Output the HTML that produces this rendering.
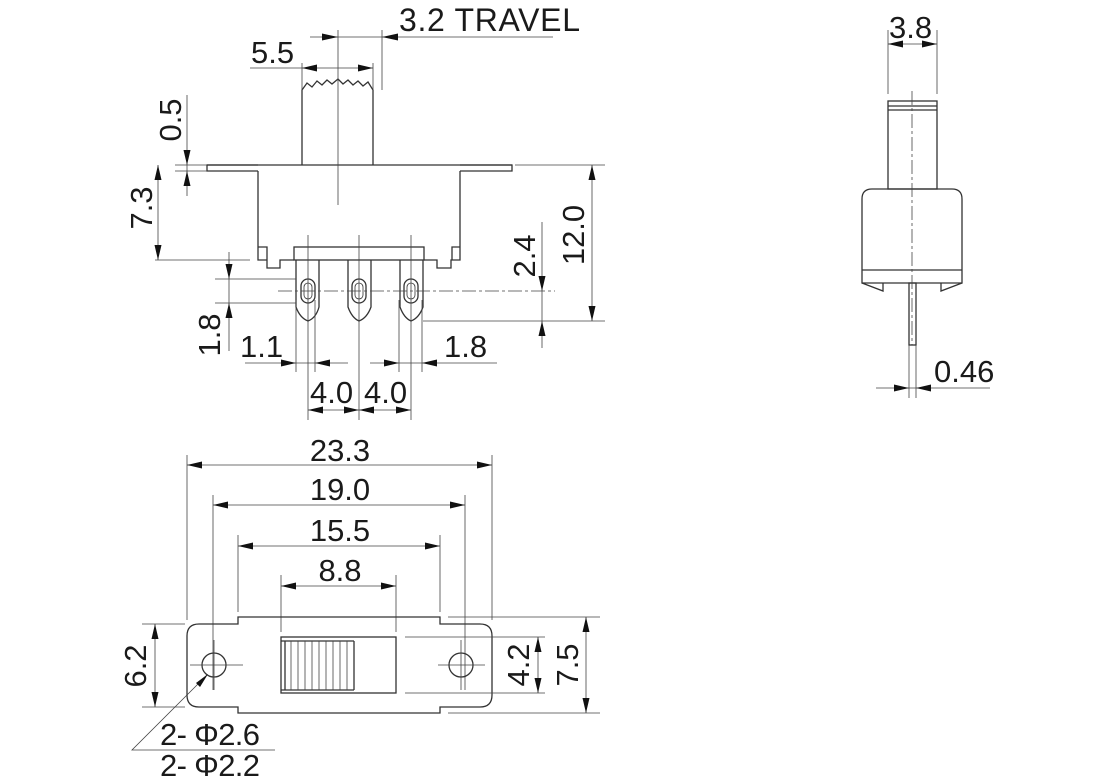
<!DOCTYPE html>
<html><head><style>
html,body{margin:0;padding:0;background:#fff;}
svg{display:block;}
text{font-family:"Liberation Sans",sans-serif;fill:#1a1a1a;font-size:31px;}
.o{stroke:#333;stroke-width:1.3;fill:none;}
.t{stroke:#444;stroke-width:0.8;fill:none;}
.d{stroke:#444;stroke-width:0.8;fill:none;stroke-dasharray:14 3 3 3;}
.a{fill:#111;stroke:none;}
</style></head><body>
<svg width="1120" height="784" viewBox="0 0 1120 784" xmlns="http://www.w3.org/2000/svg">
<!-- ===== FRONT VIEW ===== -->
<path class="o" d="M258 165 L207 165 L207 171 L258 171 M460 165 L512 165 L512 171 L460 171"/>
<path class="o" d="M207 165 H512"/>
<path class="o" d="M302 165 V90 L307 83 L312 87 L317 81 L322 85 L327 80 L332 84 L338 79 L343 84 L348 80 L353 85 L358 81 L363 86 L368 82 L373 90 V165"/>
<path class="o" d="M258 171 V260 H267 V268 H280 V260 H294 M258 247 H267 V260"/>
<path class="o" d="M460 171 V260 H451 V268 H437 V260 H424 M460 247 H452 V260"/>
<rect class="o" x="294" y="247" width="130" height="13"/>
<g class="o">
<path d="M296 260 V307 Q300 318 308 321 Q316 318 319 307 V260"/>
<path d="M348 260 V307 Q352 318 359 321 Q367 318 371 307 V260"/>
<path d="M400 260 V307 Q404 318 411 321 Q419 318 423 307 V260"/>
<rect x="301" y="279" width="14" height="24" rx="7"/>
<rect x="352" y="279" width="14" height="24" rx="7"/>
<rect x="404" y="279" width="14" height="24" rx="7"/>
<rect x="304" y="283" width="8" height="16" rx="4" style="stroke-width:0.8"/>
<rect x="355" y="283" width="8" height="16" rx="4" style="stroke-width:0.8"/>
<rect x="407" y="283" width="8" height="16" rx="4" style="stroke-width:0.8"/>
</g>
<path class="t" d="M338 30 V205 M308 235 V420 M359 235 V420 M411 235 V420"/>
<path class="d" d="M278 291 H555"/>
<!-- 3.2 TRAVEL -->
<text x="399" y="31" style="font-size:32px" textLength="181">3.2 TRAVEL</text>
<path class="t" d="M310 37 H553 M382 30 V90"/>
<polygon class="a" points="338,37 322,33.5 322,40.5"/>
<polygon class="a" points="382,37 398,33.5 398,40.5"/>
<!-- 5.5 -->
<text x="251" y="63">5.5</text>
<path class="t" d="M250 68 H373 M302 63 V90 M373 63 V90"/>
<polygon class="a" points="302,68 317,64.5 317,71.5"/>
<polygon class="a" points="373,68 358,64.5 358,71.5"/>
<!-- 0.5 -->
<text transform="translate(181 120) rotate(-90)" text-anchor="middle">0.5</text>
<path class="t" d="M187 95 V196 M175 165 H207 M175 171 H207"/>
<polygon class="a" points="187,165 183.5,150 190.5,150"/>
<polygon class="a" points="187,171 183.5,186 190.5,186"/>
<!-- 7.3 -->
<text transform="translate(152 208) rotate(-90)" text-anchor="middle">7.3</text>
<path class="t" d="M158 165 V260 M155 260 H250"/>
<polygon class="a" points="158,165 154.5,180 161.5,180"/>
<polygon class="a" points="158,260 154.5,245 161.5,245"/>
<!-- 12.0 -->
<text transform="translate(584 235) rotate(-90)" text-anchor="middle">12.0</text>
<path class="t" d="M592 165 V321 M515 165 H605 M423 321 H605"/>
<polygon class="a" points="592,165 588.5,180 595.5,180"/>
<polygon class="a" points="592,321 588.5,306 595.5,306"/>
<!-- 2.4 -->
<text transform="translate(535 256) rotate(-90)" text-anchor="middle">2.4</text>
<path class="t" d="M542 222 V348"/>
<polygon class="a" points="542,291 538.5,276 545.5,276"/>
<polygon class="a" points="542,321 538.5,336 545.5,336"/>
<!-- 1.8 left -->
<text transform="translate(220 335) rotate(-90)" text-anchor="middle">1.8</text>
<path class="t" d="M229 252 V351 M215 279 H296 M215 303 H296"/>
<polygon class="a" points="229,279 225.5,264 232.5,264"/>
<polygon class="a" points="229,303 225.5,318 232.5,318"/>
<!-- 1.1 / 1.8 -->
<path class="t" d="M296 300 V372 M315 300 V372 M399 300 V372 M422 300 V372"/>
<text x="240" y="357">1.1</text>
<path class="t" d="M245 363 H348"/>
<polygon class="a" points="296,363 281,359.5 281,366.5"/>
<polygon class="a" points="315,363 330,359.5 330,366.5"/>
<text x="444" y="357">1.8</text>
<path class="t" d="M370 363 H497"/>
<polygon class="a" points="399,363 384,359.5 384,366.5"/>
<polygon class="a" points="422,363 437,359.5 437,366.5"/>
<!-- 4.0 4.0 -->
<text x="310" y="403">4.0</text>
<text x="364" y="403">4.0</text>
<path class="t" d="M308 410 H411"/>
<polygon class="a" points="308,410 323,406.5 323,413.5"/>
<polygon class="a" points="359,410 344,406.5 344,413.5"/>
<polygon class="a" points="359,410 374,406.5 374,413.5"/>
<polygon class="a" points="411,410 396,406.5 396,413.5"/>

<!-- ===== SIDE VIEW ===== -->
<text x="889" y="38">3.8</text>
<path class="t" d="M888 30 V94 M937 30 V94 M888 44 H937"/>
<polygon class="a" points="888,44 903,40.5 903,47.5"/>
<polygon class="a" points="937,44 922,40.5 922,47.5"/>
<rect class="o" x="888" y="101" width="49" height="88"/>
<path class="o" d="M888 106 H937 M888 110 H937"/>
<path class="o" d="M862 283 V199 Q862 189 872 189 H952 Q962 189 962 199 V283 Z M862 270 H962"/>
<path class="o" d="M862 283 L883 291 V283 M962 283 L941 291 V283"/>
<rect class="o" x="909" y="283" width="7" height="62"/>
<path class="d" d="M912 91 V345"/>
<path class="t" d="M909 345 V398 M916 345 V398 M876 388 H990"/>
<polygon class="a" points="909,388 894,384.5 894,391.5"/>
<polygon class="a" points="916,388 931,384.5 931,391.5"/>
<text x="934" y="382">0.46</text>

<!-- ===== BOTTOM VIEW ===== -->
<text x="340" y="461" text-anchor="middle">23.3</text>
<path class="t" d="M187 455 V620 M492 455 V620 M187 465 H492"/>
<polygon class="a" points="187,465 202,461.5 202,468.5"/>
<polygon class="a" points="492,465 477,461.5 477,468.5"/>
<text x="340" y="500" text-anchor="middle">19.0</text>
<path class="t" d="M213 495 V690 M465 495 V690 M213 505 H465"/>
<polygon class="a" points="213,505 228,501.5 228,508.5"/>
<polygon class="a" points="465,505 450,501.5 450,508.5"/>
<text x="340" y="541" text-anchor="middle">15.5</text>
<path class="t" d="M238 535 V612 M440 535 V612 M238 546 H440"/>
<polygon class="a" points="238,546 253,542.5 253,549.5"/>
<polygon class="a" points="440,546 425,542.5 425,549.5"/>
<text x="340" y="581" text-anchor="middle">8.8</text>
<path class="t" d="M281 575 V632 M396 575 V632 M281 586 H396"/>
<polygon class="a" points="281,586 296,582.5 296,589.5"/>
<polygon class="a" points="396,586 381,582.5 381,589.5"/>
<path class="o" d="M238 617 H440 V624 H480 Q492 624 492 636 V695 Q492 707 480 707 H440 V713 H238 V707 H199 Q187 707 187 695 V636 Q187 624 199 624 H238 Z"/>
<circle class="o" cx="214" cy="665" r="12"/>
<circle class="o" cx="461" cy="665" r="12"/>
<path class="t" d="M190 665 H243 M438 665 H485 M214 640 V690 M461 640 V690"/>
<rect class="o" x="281" y="637" width="115" height="56"/>
<path class="o" d="M354 641 V690 M285 641 V690 M281 641 H354 M281 690 H354"/>
<path class="t" d="M291 641 V690 M298 641 V690 M305 641 V690 M312 641 V690 M319 641 V690 M326 641 V690 M333 641 V690 M340 641 V690 M347 641 V690"/>
<path class="t" d="M405 637 H545 M405 693 H545 M448 617 H600 M448 713 H600 M142 624 H185 M142 707 H185"/>
<text transform="translate(146 666) rotate(-90)" text-anchor="middle">6.2</text>
<path class="t" d="M155 624 V707"/>
<polygon class="a" points="155,624 151.5,639 158.5,639"/>
<polygon class="a" points="155,707 151.5,692 158.5,692"/>
<text transform="translate(529 665) rotate(-90)" text-anchor="middle">4.2</text>
<path class="t" d="M538 637 V693"/>
<polygon class="a" points="538,637 534.5,652 541.5,652"/>
<polygon class="a" points="538,693 534.5,678 541.5,678"/>
<text transform="translate(578 665) rotate(-90)" text-anchor="middle">7.5</text>
<path class="t" d="M586 617 V713"/>
<polygon class="a" points="586,617 582.5,632 589.5,632"/>
<polygon class="a" points="586,713 582.5,698 589.5,698"/>
<path class="t" d="M207 675 L132 750 H275"/>
<polygon class="a" points="208,674 196,683 200,687"/>
<text x="160" y="745" textLength="100">2- Φ2.6</text>
<text x="160" y="776" textLength="100">2- Φ2.2</text>
</svg>
</body></html>
